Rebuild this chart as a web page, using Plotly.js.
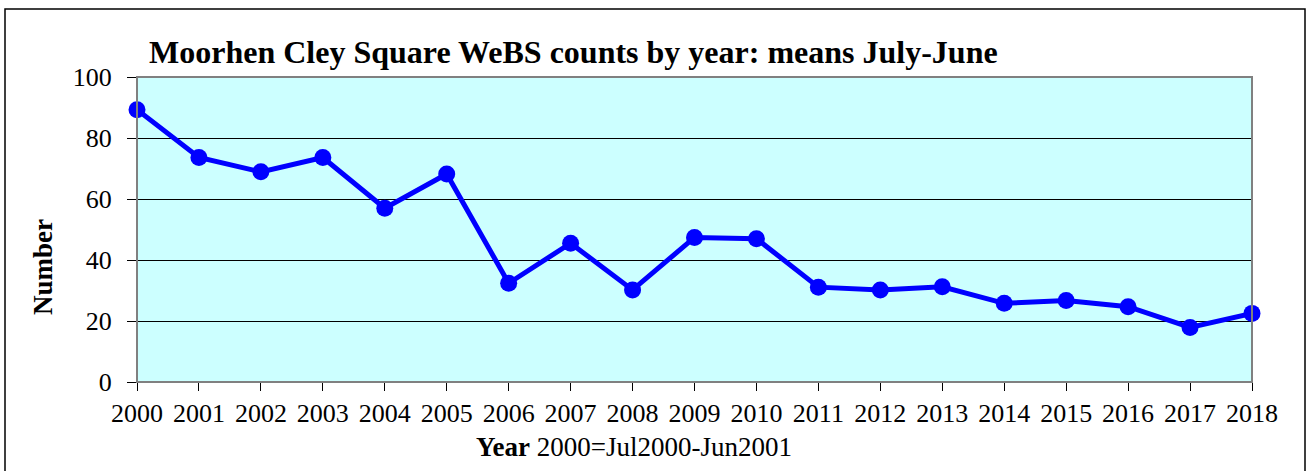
<!DOCTYPE html>
<html>
<head>
<meta charset="utf-8">
<script src="https://cdn.plot.ly/plotly-3.0.1.min.js"></script>
<style>
  html, body { margin: 0; padding: 0; background: #ffffff; }
  #chart { width: 1307px; height: 471px; }
</style>
</head>
<body>
<div id="chart"></div>
<script>
// Moorhen, Cley Square WeBS: mean counts per July-June season
const years = [2000, 2001, 2002, 2003, 2004, 2005, 2006, 2007, 2008, 2009,
               2010, 2011, 2012, 2013, 2014, 2015, 2016, 2017, 2018];
const meanCounts = [89.3, 73.6, 68.9, 73.6, 57.0, 68.2, 32.4, 45.5, 30.2, 47.4,
                    47.0, 31.1, 30.2, 31.2, 25.8, 26.7, 24.7, 17.9, 22.5];
const yTicks = [0, 20, 40, 60, 80, 100];

const serif = "'Liberation Serif', 'Times New Roman', serif";

const trace = {
  x: years,
  y: meanCounts,
  type: 'scatter',
  mode: 'lines+markers',
  line: { color: '#0000ff', width: 5 },
  marker: { color: '#0000ff', size: 17 },
  cliponaxis: false,
  hoverinfo: 'x+y'
};

const layout = {
  width: 1307,
  height: 471,
  margin: { l: 137, r: 55, t: 77, b: 89, pad: 0 },
  paper_bgcolor: '#ffffff',
  plot_bgcolor: '#ccffff',
  showlegend: false,
  font: { family: serif, size: 26, color: '#000000' },
  xaxis: {
    range: [2000, 2018],
    tickvals: years,
    ticktext: years.map(String),
    ticks: 'outside',
    ticklen: 8,
    tickcolor: '#000000',
    tickwidth: 1,
    showgrid: false,
    zeroline: false,
    showline: true,
    linecolor: '#000000',
    linewidth: 1,
    tickfont: { family: serif, size: 26, color: '#000000' },
    fixedrange: true
  },
  yaxis: {
    range: [0, 100],
    tickvals: yTicks,
    ticks: 'outside',
    ticklen: 9,
    tickcolor: '#000000',
    tickwidth: 1,
    showgrid: true,
    gridcolor: '#000000',
    gridwidth: 1,
    zeroline: false,
    showline: true,
    linecolor: '#000000',
    linewidth: 1,
    tickfont: { family: serif, size: 26, color: '#000000' },
    ticklabelstandoff: 10,
    fixedrange: true
  },
  shapes: [
    // outer chart frame
    { type: 'rect', xref: 'paper', yref: 'paper', layer: 'below',
      x0: -132 / 1115, x1: 1168 / 1115, y0: -0.5, y1: 1 + 68 / 305,
      line: { color: '#000000', width: 1.5 }, fillcolor: 'rgba(0,0,0,0)' },
    // grey border of the plotting area
    { type: 'rect', xref: 'paper', yref: 'paper', layer: 'above',
      x0: 0, x1: 1, y0: 0, y1: 1,
      line: { color: '#808080', width: 2 }, fillcolor: 'rgba(0,0,0,0)' }
  ],
  annotations: [
    { text: '<b>Moorhen Cley Square WeBS counts by year: means July-June</b>',
      xref: 'paper', yref: 'paper', x: (573 - 137) / 1115, y: 1 + (382 - 52 - 305) / 305,
      xanchor: 'center', yanchor: 'middle', showarrow: false,
      font: { family: serif, size: 32, color: '#000000' } },
    { text: '<b>Number</b>',
      xref: 'paper', yref: 'paper', x: (43 - 137) / 1115, y: (382 - 267) / 305,
      xanchor: 'center', yanchor: 'middle', textangle: -90, showarrow: false,
      font: { family: serif, size: 27, color: '#000000' } },
    { text: '<b>Year</b> 2000=Jul2000-Jun2001',
      xref: 'paper', yref: 'paper', x: (634 - 137) / 1115, y: -(447 - 382) / 305,
      xanchor: 'center', yanchor: 'middle', showarrow: false,
      font: { family: serif, size: 27, color: '#000000' } }
  ]
};

Plotly.newPlot('chart', [trace], layout, { displayModeBar: false, staticPlot: true });
</script>
</body>
</html>
